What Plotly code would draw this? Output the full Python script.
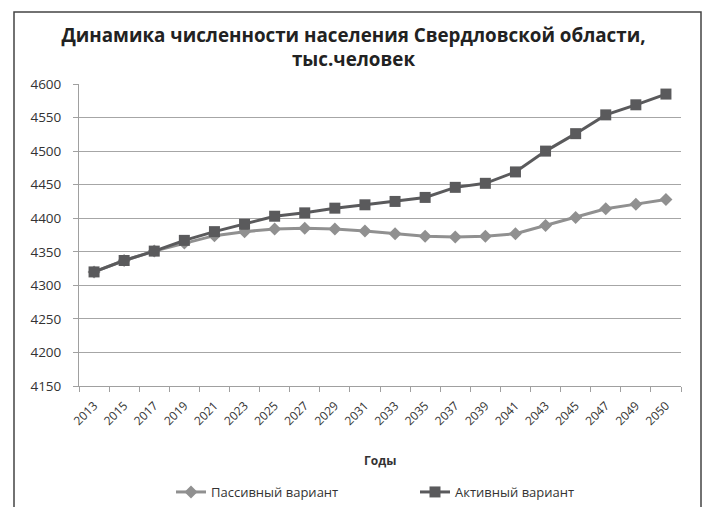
import plotly.graph_objects as go

years = ["2013", "2015", "2017", "2019", "2021", "2023", "2025", "2027", "2029", "2031",
         "2033", "2035", "2037", "2039", "2041", "2043", "2045", "2047", "2049", "2050"]
passive = [4320, 4337, 4351, 4363, 4374, 4380, 4384, 4385, 4384, 4381,
           4377, 4373, 4372, 4373, 4377, 4389, 4401, 4414, 4421, 4428]
active = [4320, 4337, 4351, 4367, 4380, 4391, 4403, 4408, 4415, 4420,
          4425, 4431, 4446, 4452, 4469, 4500, 4526, 4554, 4569, 4585]
y_ticks = [4150, 4200, 4250, 4300, 4350, 4400, 4450, 4500, 4550, 4600]

FONT = "Open Sans, Noto Sans, Liberation Sans, sans-serif"

fig = go.Figure()
fig.add_trace(go.Scatter(
    x=years, y=passive, name="Пассивный вариант", mode="lines+markers",
    line=dict(color="#909090", width=3),
    marker=dict(symbol="diamond", size=10, color="#909090"),
))
fig.add_trace(go.Scatter(
    x=years, y=active, name="Активный вариант", mode="lines+markers",
    line=dict(color="#5a5a5c", width=3),
    marker=dict(symbol="square", size=11, color="#5a5a5c"),
))

L, R, T, B = 79, 26, 84, 121
W, H = 707, 507
pw, ph = W - L - R, H - T - B

def px_x(p):
    return (p - L) / pw

def px_y(p):
    return (H - B - p) / ph

fig.update_layout(
    width=W, height=H,
    margin=dict(l=L, r=R, t=T, b=B, autoexpand=False),
    paper_bgcolor="white", plot_bgcolor="white",
    font=dict(family=FONT, color="#333333", size=12),
    title=dict(
        text="<b>Динамика численности населения Свердловской области,<br>тыс.человек</b>",
        x=0.5, xanchor="center", xref="container", y=1 - 42 / H, yanchor="top",
        yref="container",
        font=dict(family=FONT, size=18.8, color="#222222"),
    ),
    showlegend=True,
    legend=dict(
        orientation="h", x=171 / W, xanchor="left", xref="container",
        y=1 - 492 / H, yanchor="middle", yref="container",
        font=dict(size=13, color="#333333"), itemwidth=30,
        entrywidthmode="pixels", entrywidth=199,
    ),
    xaxis=dict(
        type="category", tickangle=-45, showgrid=False, range=[-0.5, 19.5],
        showline=True, linecolor="#a0a0a0", linewidth=1,
        ticks="outside", ticklen=5, tickcolor="#a0a0a0",
        tickson="boundaries", automargin=False, ticklabelstandoff=7,
        tickfont=dict(size=12, color="#333333"),
    ),
    yaxis=dict(
        range=[4150, 4600], tickvals=y_ticks, automargin=False,
        showgrid=True, gridcolor="#a6a6a6", gridwidth=1,
        showline=True, linecolor="#a0a0a0", linewidth=1,
        ticks="outside", ticklen=5, tickcolor="#a0a0a0",
        ticklabelstandoff=9,
        tickfont=dict(size=13.5, color="#333333"),
        zeroline=False,
    ),
    annotations=[dict(
        text="<b>Годы</b>", xref="paper", yref="paper", x=0.5, y=px_y(460),
        xanchor="center", yanchor="middle", showarrow=False,
        font=dict(size=12, color="#333333"),
    )],
    shapes=[dict(
        type="rect", xref="paper", yref="paper",
        x0=px_x(14), x1=px_x(701), y0=px_y(515), y1=px_y(12),
        line=dict(color="#444444", width=1.5), fillcolor="rgba(0,0,0,0)", layer="below",
    )],
)

fig.write_html(
    "out.html",
    config={"displayModeBar": False},
    post_script="document.body.style.margin='0';document.body.style.overflow='hidden';",
)
